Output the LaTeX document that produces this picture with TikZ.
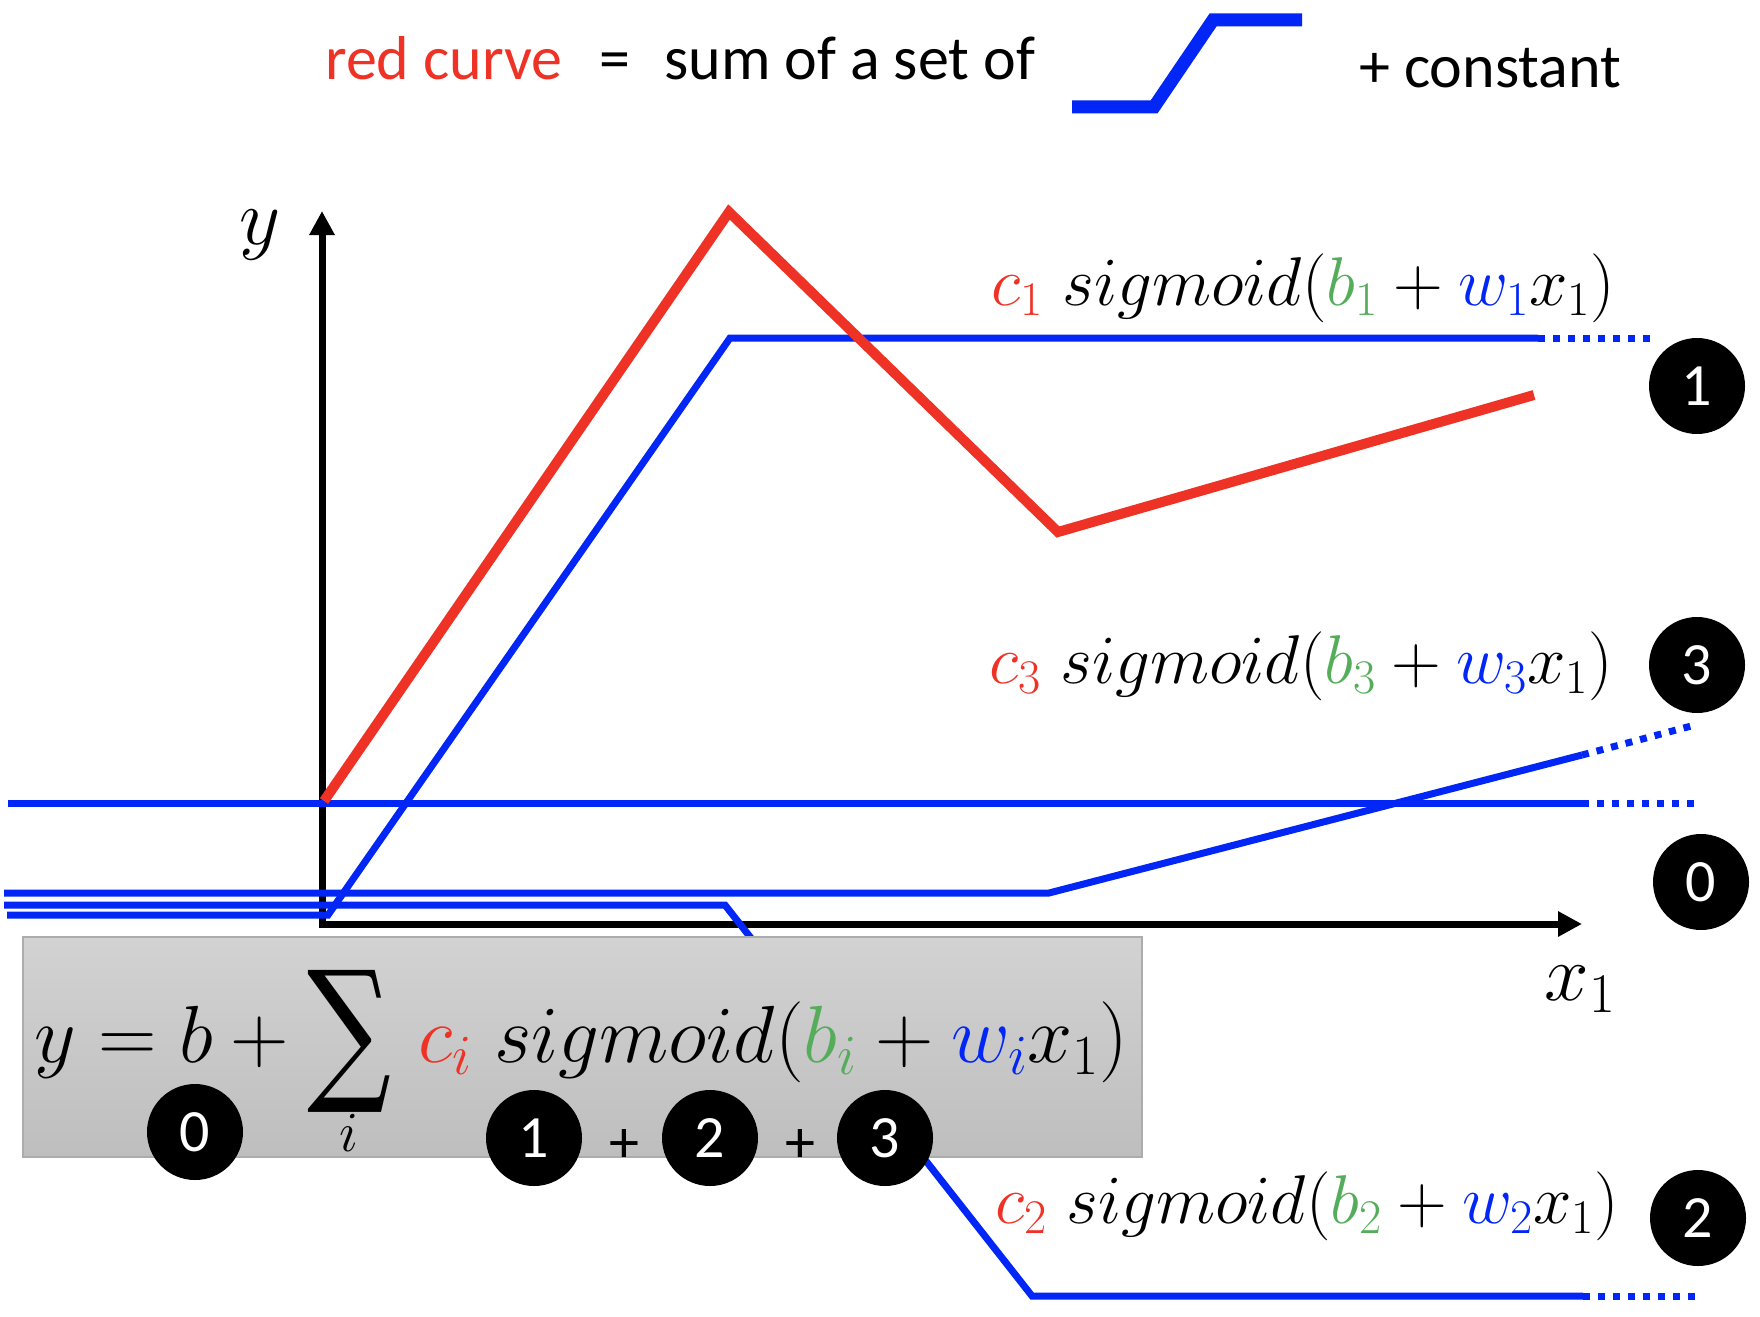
\RequirePackage{fix-cm}
\documentclass[tikz,border=0pt]{standalone}
\usepackage{fontspec}
\setmainfont{Carlito}
\newfontfamily\sumfont{DejaVu Serif}
\usepackage{tikz}
\usetikzlibrary{arrows.meta}
\definecolor{curvered}{HTML}{EE3326}
\definecolor{sigblue}{HTML}{0226F5}
\definecolor{biasgreen}{HTML}{55AD5B}
\tikzset{x=1pt, y=-1pt,
every node/.style={inner sep=0pt},
sigline/.style={ % Solid part of one blue piece
draw=sigblue,
line width=7pt},
sigtail/.style={ % Dotted continuation on the right
draw=sigblue,
line width=7pt,
dash pattern=on 7pt off 8pt},
redcurve/.style={draw=curvered, line width=10pt},
axis/.style={draw, line width=7pt, {Triangle[length=24pt,width=24pt]}-{Triangle[length=24pt,width=24pt]}},
stepicon/.style={draw=sigblue, line width=13pt},
sumbox/.style={rectangle, draw=gray!65, line width=1.5pt,
top color=gray!35, bottom color=gray!51,
minimum width=1119pt, minimum height=220pt},
badge/.style={circle, fill=black, text=white, minimum size=96pt,
font=\fontsize{60}{60}\selectfont},
titletext/.style={anchor=base west, font=\fontsize{62}{70}\selectfont},
siglabel/.style={anchor=base east, font=\fontsize{69}{72}\selectfont},
axislabel/.style={font=\fontsize{80}{80}\selectfont}}
\newcommand{\sigterm}[1]{$\textcolor{curvered}{c_{#1}}\; sigmoid(\textcolor{biasgreen}{b_{#1}} + \textcolor{sigblue}{w_{#1}}x_1)$}
\newcommand{\bigsum}{\mathop{\vcenter{\hbox{\resizebox*{84pt}{142pt}{\sumfont ∑}}}}\limits}

\begin{document}
\begin{tikzpicture}
\useasboundingbox (0,0) rectangle (1760,1316);
% title line
\node[titletext, text=curvered] (redtxt) at (325,80) {red curve};
\node[titletext, anchor=base] (eqtxt) at (615,80) {=};
\node[titletext] (sumtxt) at (664,80) {sum of a set of};
\node[titletext] (consttxt) at (1359,88) {+ constant};
\coordinate (st0) at (1072,107);
\coordinate (st1) at (1154,107);
\coordinate (st2) at (1213,20);
\coordinate (st3) at (1302,20);
\draw[stepicon] (st0) -- (st1) -- (st2) -- (st3);
% axes
\coordinate (org) at (322,924);
\coordinate (ytip) at (322,211);
\coordinate (xtip) at (1582,924);
\draw[axis] (ytip) -- (org) -- (xtip);
\node[axislabel] (ylab) at (260,235) {$y$};
\node[axislabel] (xlab) at (1580,989) {$x_1$};
% blue pieces
\coordinate (s0a) at (8,803);
\coordinate (s0b) at (1582,803);
\coordinate (s0c) at (1697,803);
\coordinate (s1a) at (7,915);
\coordinate (s1b) at (328,915);
\coordinate (s1c) at (730,338);
\coordinate (s1d) at (1538,338);
\coordinate (s1e) at (1654,338);
\coordinate (s2a) at (4,905);
\coordinate (s2b) at (725,905);
\coordinate (s2c) at (1032,1296);
\coordinate (s2d) at (1583,1296);
\coordinate (s2e) at (1695,1296);
\coordinate (s3a) at (4,893);
\coordinate (s3b) at (1049,893);
\coordinate (s3c) at (1582,755);
\coordinate (s3d) at (1695,725);
\draw[sigline] (s0a) -- (s0b);
\draw[sigtail] (s0b) -- (s0c);
\draw[sigline] (s1a) -- (s1b) -- (s1c) -- (s1d);
\draw[sigtail] (s1d) -- (s1e);
\draw[sigline] (s2a) -- (s2b) -- (s2c) -- (s2d);
\draw[sigtail] (s2d) -- (s2e);
\draw[sigline] (s3a) -- (s3b) -- (s3c);
\draw[sigtail] (s3c) -- (s3d);
% red curve
\coordinate (r0) at (324,801);
\coordinate (r1) at (729,212);
\coordinate (r2) at (1058,532);
\coordinate (r3) at (1534,395);
\draw[redcurve] (r0) -- (r1) -- (r2) -- (r3);
% labels of the pieces
\node[siglabel] (lab1) at (1615,305) {\sigterm{1}};
\node[siglabel] (lab3) at (1613,683) {\sigterm{3}};
\node[siglabel] (lab2) at (1619,1223) {\sigterm{2}};
\node[badge] (b1) at (1697,386) {1};
\node[badge] (b3) at (1697,665) {3};
\node[badge] (b0) at (1701,882) {0};
\node[badge] (b2) at (1698,1218) {2};
% formula box
\node[sumbox] (box) at (582.5,1047) {};
\node[anchor=base west, font=\fontsize{81}{82}\selectfont] (formula) at (34,1062)
{$\displaystyle y = b + \bigsum_i \, \textcolor{curvered}{c_i}\; sigmoid(\textcolor{biasgreen}{b_i} + \textcolor{sigblue}{w_i}x_1)$};
\node[badge] (f0) at (195,1132) {0};
\node[badge] (f1) at (534,1138) {1};
\node[badge] (f2) at (710,1138) {2};
\node[badge] (f3) at (885,1138) {3};
\node[font=\fontsize{60}{60}\selectfont] (plus1) at (624,1146) {+};
\node[font=\fontsize{60}{60}\selectfont] (plus2) at (800,1146) {+};
\end{tikzpicture}
\end{document}
